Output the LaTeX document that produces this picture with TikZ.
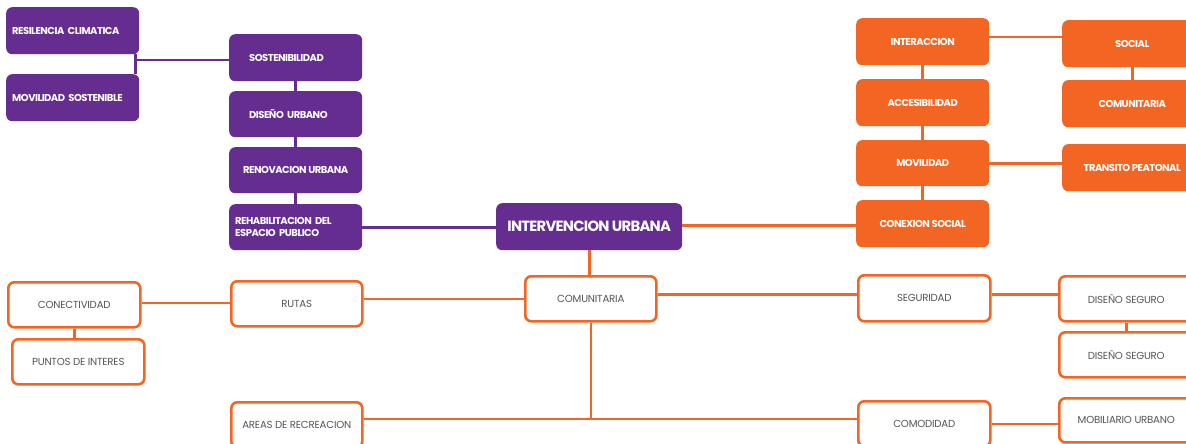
\documentclass[tikz,border=0pt]{standalone}
\usepackage{fontspec}
\setmainfont{Poppins}
\newfontfamily\boldtight[LetterSpace=-5]{Poppins}
\newfontfamily\regtight[LetterSpace=-2]{Poppins}
\definecolor{pur}{HTML}{652D90}
\definecolor{org}{HTML}{F26522}
\definecolor{txtgray}{HTML}{555555}
\begin{document}
\begin{tikzpicture}[x=1pt,y=-1pt,
  base/.style={anchor=north west, rounded corners=6pt, inner sep=0pt, font=\boldtight\bfseries\fontsize{10}{12}\selectfont, text=white},
  pbox/.style={base, fill=pur},
  obox/.style={base, fill=org},
  wbox/.style={anchor=north west, rounded corners=6pt, inner sep=0pt, draw=org, line width=2.6pt, fill=white, font=\regtight\fontsize{10.2}{12}\selectfont, text=txtgray},
  pline/.style={draw=pur, line width=2.6pt},
  oline/.style={draw=org, line width=2.6pt},
]
\useasboundingbox (0,0) rectangle (1186,444);
\clip (0,0) rectangle (1186,444);
\coordinate (j) at (589,419);
% purple
\node[pbox, minimum width=133pt, minimum height=47pt, text width=121pt, inner xsep=6pt, align=left] (res) at (6,7) {RESILENCIA CLIMATICA};
\node[pbox, minimum width=133pt, minimum height=47pt, text width=121pt, inner xsep=6pt, align=left] (movs) at (6,74) {MOVILIDAD SOSTENIBLE};
\node[pbox, minimum width=133pt, minimum height=47pt, text width=113pt, inner xsep=10pt, align=left] (sos) at (229,34) {\hspace*{10pt}SOSTENIBILIDAD};
\node[pbox, minimum width=133pt, minimum height=46pt, text width=113pt, inner xsep=10pt, align=left] (dis) at (229,91) {\hspace*{10pt}DISEÑO URBANO};
\node[pbox, minimum width=133pt, minimum height=46pt] (ren) at (229,147) {RENOVACION URBANA};
\node[pbox, minimum width=133pt, minimum height=46pt, text width=121pt, inner xsep=6pt, align=left] (reh) at (229,204) {REHABILITACION DEL\\ESPACIO PUBLICO};
\node[pbox, minimum width=186pt, minimum height=47pt, font=\boldtight\bfseries\fontsize{14.8}{16}\selectfont] (iu) at (496,203) {INTERVENCION URBANA};
% orange filled
\node[obox, minimum width=133pt, minimum height=47pt] (inter) at (856,18) {INTERACCION};
\node[obox, minimum width=133pt, minimum height=47pt] (acc) at (856,79) {ACCESIBILIDAD};
\node[obox, minimum width=133pt, minimum height=46pt] (movl) at (856,140) {MOVILIDAD};
\node[obox, minimum width=133pt, minimum height=47pt] (cs) at (856,200) {CONEXION SOCIAL};
\node[obox, minimum width=140pt, minimum height=47pt] (soc) at (1062,20) {SOCIAL};
\node[obox, minimum width=140pt, minimum height=47pt] (com2) at (1062,80) {COMUNITARIA};
\node[obox, minimum width=140pt, minimum height=47pt] (tp) at (1062,144) {TRANSITO PEATONAL};
% white outlined
\node[wbox, minimum width=131pt, minimum height=45pt] (comu) at (524,275) {COMUNITARIA};
\node[wbox, minimum width=131pt, minimum height=45pt] (rutas) at (230,280) {RUTAS};
\node[wbox, minimum width=132pt, minimum height=45pt] (con) at (7,281) {CONECTIVIDAD};
\node[wbox, minimum width=132pt, minimum height=45pt] (pun) at (11,338) {PUNTOS DE INTERES};
\node[wbox, minimum width=131pt, minimum height=45pt] (ar) at (230,401) {AREAS DE RECREACION};
\node[wbox, minimum width=132pt, minimum height=46pt] (seg) at (857,274) {SEGURIDAD};
\node[wbox, minimum width=134pt, minimum height=45pt] (ds1) at (1058,275) {DISEÑO SEGURO};
\node[wbox, minimum width=134pt, minimum height=45pt] (ds2) at (1058,331) {DISEÑO SEGURO};
\node[wbox, minimum width=132pt, minimum height=45pt] (comd) at (857,400) {COMODIDAD};
\node[wbox, minimum width=134pt, minimum height=44pt] (mob) at (1058,397) {MOBILIARIO URBANO};
% purple connectors
\draw[pline] ([xshift=-4pt]res.south east) -- ([xshift=-4pt]movs.north east);
\draw[pline] ([yshift=-2.5pt]sos.west) -- ([xshift=-4pt,yshift=-2.5pt]sos.west -| res.east);
\draw[pline] (sos.south) -- (dis.north);
\draw[pline] (dis.south) -- (ren.north);
\draw[pline] (ren.south) -- (reh.north);
\draw[pline] (reh.east) -- (reh.east -| iu.west);
% orange connectors
\draw[oline] ([yshift=1.5pt]iu.east) -- ([yshift=1.5pt]iu.east -| cs.west);
\draw[oline] (inter.south) -- (acc.north);
\draw[oline] (acc.south) -- (movl.north);
\draw[oline] (movl.south) -- (cs.north);
\draw[oline] ([yshift=4.5pt]inter.east) -- ([yshift=4.5pt]inter.east -| soc.west);
\draw[oline] (soc.south) -- (com2.north);
\draw[oline] (movl.east) -- (movl.east -| tp.west);
\draw[oline] (iu.south) -- (iu.south |- comu.north);
\draw[oline] (comu.south) -- (comu.south |- j);
\draw[oline] (ar.east |- j) -- (comd.west |- j);
\draw[oline] (comu.west) -- (comu.west -| rutas.east);
\draw[oline] ([yshift=1pt]rutas.west) -- ([yshift=1pt]rutas.west -| con.east);
\draw[oline] (con.south) -- (con.south |- pun.north);
\draw[oline] ([yshift=4pt]seg.west) -- ([yshift=4pt]seg.west -| comu.east);
\draw[oline] ([yshift=4pt]seg.east) -- ([yshift=4pt]seg.east -| ds1.west);
\draw[oline] (ds1.south) -- (ds2.north);
\draw[oline] (comd.east) -- (comd.east -| mob.west);
\end{tikzpicture}
\end{document}
